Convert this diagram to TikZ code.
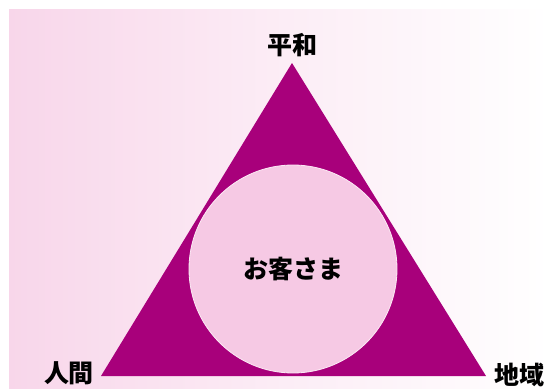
\documentclass[tikz,border=0pt]{standalone}
\usepackage{fontspec}
\newfontfamily\cjk{Noto Sans CJK JP}
\definecolor{tri}{HTML}{A8007B}
\definecolor{disc}{HTML}{F6C9E4}
\definecolor{bgpink}{HTML}{F8D6EA}
\tikzset{
  lbl/.style={font=\cjk\bfseries\fontsize{25}{25}\selectfont, text=black, inner sep=0pt},
}
\begin{document}
\begin{tikzpicture}[x=1pt,y=-1pt]
\useasboundingbox (0,0) rectangle (550,389);
\fill[white] (0,0) rectangle (550,389);
\shade[left color=bgpink, right color=white, middle color=bgpink!45!white] (9,9) rectangle (550,389);
\coordinate (top) at (292,63);
\coordinate (bl) at (101,376);
\coordinate (br) at (486,376);
\fill[tri] (top) -- (br) -- (bl) -- cycle;
\node[circle, minimum size=208pt, inner sep=0pt, fill=disc, draw=white!60!disc, line width=0.8pt] (customer) at (293,269) {};
\node[lbl] (c) at (customer) {お客さま};
\node[lbl] (peace) at (292,45) {平和};
\node[lbl] (human) at (69,373) {人間};
\node[lbl] (region) at (519,375) {地域};
\end{tikzpicture}
\end{document}
